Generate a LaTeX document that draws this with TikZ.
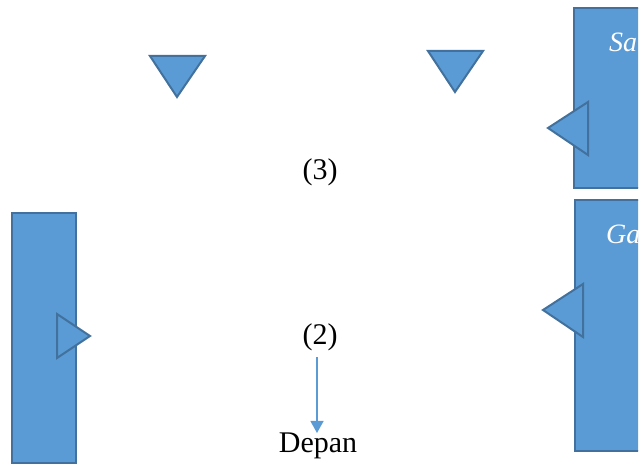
\documentclass[tikz,border=0pt]{standalone}
\usepackage{fontspec}
\setmainfont{Liberation Serif}
\usetikzlibrary{arrows.meta}
\definecolor{boxfill}{HTML}{5B9BD5}
\definecolor{boxline}{HTML}{41719C}
\tikzset{
  shapebox/.style={fill=boxfill, draw=boxline, line width=2pt},
  lbl/.style={font=\fontsize{30}{34}\selectfont, inner sep=0pt},
  sidelbl/.style={font=\fontsize{28}{32}\selectfont\itshape, text=white, inner sep=0pt, anchor=west},
  flow/.style={draw=boxfill, line width=1.3pt, -{Triangle[length=12pt,width=13pt]}}
}
\begin{document}
\begin{tikzpicture}[x=1pt,y=-1pt]
\useasboundingbox (0,0) rectangle (641,465);
\begin{scope}
\clip (0,0) rectangle (638,465);
% right top rect
\draw[shapebox] (574,8) rectangle (660,188);
\node[sidelbl] (sa) at (609,42) {Sa};
\draw[shapebox] (588,102) -- (548,128) -- (588,155) -- cycle;
% right bottom rect
\draw[shapebox] (575,200) rectangle (660,451);
\node[sidelbl] (ga) at (606,234) {Ga};
\draw[shapebox] (583,284) -- (543,310) -- (583,337) -- cycle;
\end{scope}
% left rect
\draw[shapebox] (12,213) rectangle (76,463);
\draw[shapebox] (57,314) -- (90,336) -- (57,358) -- cycle;
% top triangles
\draw[shapebox] (150,56) -- (205,56) -- (177,97) -- cycle;
\draw[shapebox] (428,51) -- (483,51) -- (455,92) -- cycle;
% labels
\node[lbl] (three) at (320,172) {(3)};
\node[lbl] (two) at (320,337) {(2)};
\node[lbl] (depan) at (318,446) {Depan};
\draw[flow] (317,357) -- (317,433);
\end{tikzpicture}
\end{document}
